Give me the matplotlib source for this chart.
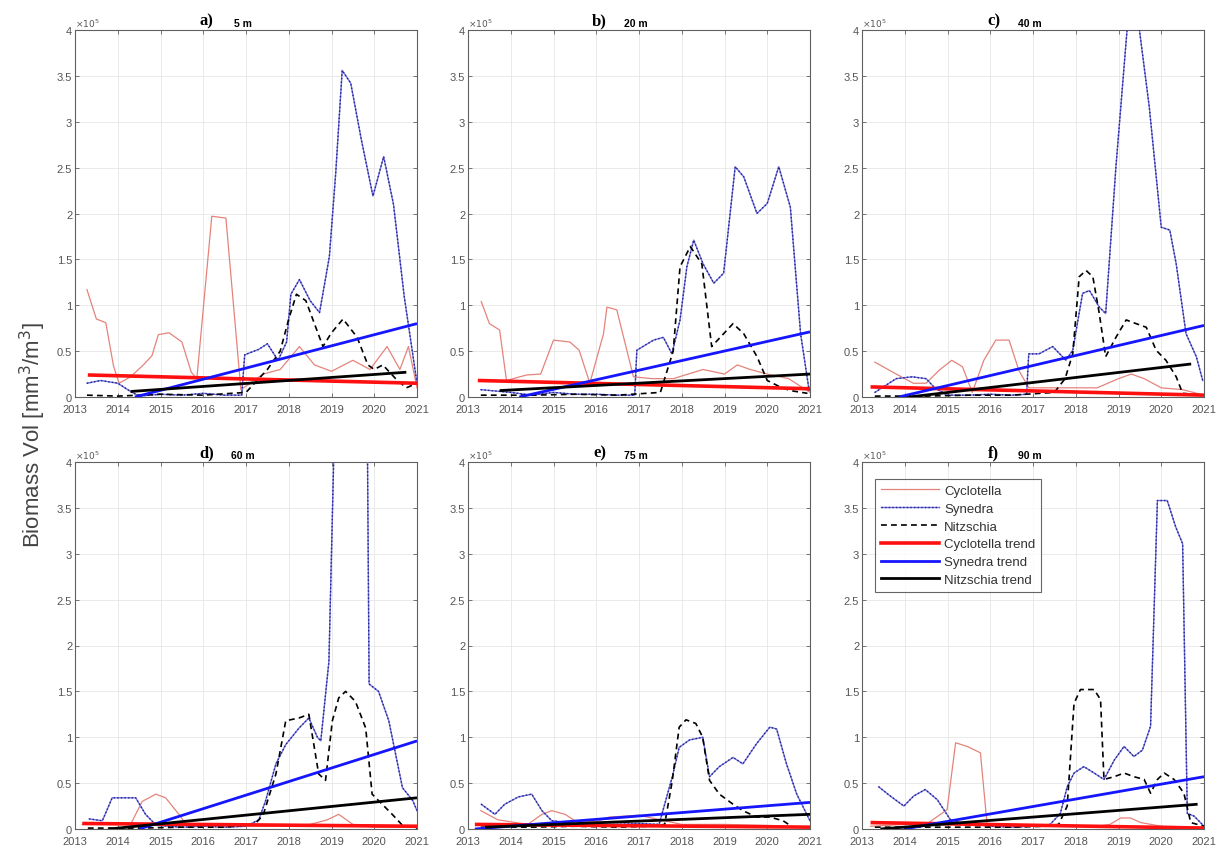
import matplotlib
matplotlib.use("Agg")
import matplotlib.pyplot as plt
from matplotlib.lines import Line2D

# ---------------- data (values in units of 10^5 mm^3/m^3) ----------------
panel_letters = ['a)', 'b)', 'c)', 'd)', 'e)', 'f)']
panel_depths = ['5 m', '20 m', '40 m', '60 m', '75 m', '90 m']
x_ticks = [2013, 2014, 2015, 2016, 2017, 2018, 2019, 2020, 2021]
y_ticks = [0, 0.5, 1, 1.5, 2, 2.5, 3, 3.5, 4]
y_ticklabels = ['0', '0.5', '1', '1.5', '2', '2.5', '3', '3.5', '4']
series_names = ['Cyclotella', 'Synedra', 'Nitzschia',
                'Cyclotella trend', 'Synedra trend', 'Nitzschia trend']

# panel a (5 m)
a_cyc_t = [2013.28, 2013.5, 2013.72, 2013.9, 2014.03, 2014.3, 2014.6, 2014.8, 2014.95, 2015.2, 2015.5, 2015.72, 2015.85, 2016.2, 2016.53, 2016.88, 2017.1, 2017.4, 2017.8, 2018.25, 2018.6, 2019.0, 2019.5, 2019.9, 2020.3, 2020.6, 2020.8, 2021.0]
a_cyc_v = [1.17, 0.85, 0.81, 0.34, 0.15, 0.22, 0.35, 0.45, 0.68, 0.70, 0.60, 0.27, 0.20, 1.97, 1.95, 0.08, 0.15, 0.25, 0.30, 0.55, 0.35, 0.28, 0.40, 0.30, 0.55, 0.30, 0.55, 0.10]
a_syn_t = [2013.28, 2013.6, 2014.0, 2014.3, 2014.5, 2015.0, 2015.5, 2016.0, 2016.5, 2016.9, 2016.97, 2017.3, 2017.5, 2017.75, 2017.95, 2018.05, 2018.25, 2018.5, 2018.72, 2018.95, 2019.1, 2019.25, 2019.45, 2019.7, 2019.97, 2020.22, 2020.45, 2020.7, 2021.0]
a_syn_v = [0.15, 0.18, 0.15, 0.06, 0.01, 0.03, 0.02, 0.04, 0.02, 0.02, 0.46, 0.52, 0.58, 0.40, 0.60, 1.12, 1.28, 1.05, 0.92, 1.53, 2.45, 3.56, 3.42, 2.80, 2.19, 2.62, 2.10, 1.10, 0.15]
a_nit_t = [2013.28, 2014.0, 2015.0, 2016.0, 2017.0, 2017.5, 2017.8, 2018.0, 2018.18, 2018.4, 2018.6, 2018.8, 2019.0, 2019.27, 2019.6, 2019.85, 2020.0, 2020.2, 2020.5, 2020.75, 2021.0]
a_nit_v = [0.02, 0.01, 0.03, 0.02, 0.05, 0.30, 0.50, 0.85, 1.12, 1.05, 0.80, 0.55, 0.70, 0.85, 0.65, 0.35, 0.30, 0.35, 0.20, 0.10, 0.15]
a_trend_cyc = ([2013.3, 2021.0], [0.24, 0.15])
a_trend_syn = ([2014.4, 2021.0], [0.00, 0.80])
a_trend_nit = ([2014.3, 2020.75], [0.06, 0.27])

# panel b (20 m)
b_cyc_t = [2013.31, 2013.5, 2013.74, 2013.9, 2014.37, 2014.7, 2015.0, 2015.38, 2015.6, 2015.85, 2016.17, 2016.25, 2016.48, 2016.87, 2017.3, 2017.8, 2018.5, 2019.0, 2019.3, 2019.6, 2020.0, 2020.5, 2021.0]
b_cyc_v = [1.04, 0.80, 0.73, 0.18, 0.24, 0.25, 0.62, 0.60, 0.51, 0.15, 0.69, 0.98, 0.95, 0.22, 0.20, 0.20, 0.30, 0.25, 0.35, 0.30, 0.25, 0.20, 0.05]
b_syn_t = [2013.3, 2014.0, 2014.5, 2015.0, 2015.5, 2016.0, 2016.5, 2016.9, 2016.95, 2017.34, 2017.57, 2017.77, 2017.96, 2018.12, 2018.28, 2018.5, 2018.75, 2018.98, 2019.25, 2019.45, 2019.76, 2020.0, 2020.27, 2020.54, 2020.78, 2020.98]
b_syn_v = [0.08, 0.05, 0.02, 0.05, 0.03, 0.03, 0.02, 0.02, 0.51, 0.62, 0.65, 0.47, 0.84, 1.42, 1.71, 1.45, 1.24, 1.35, 2.51, 2.40, 2.00, 2.11, 2.51, 2.07, 0.69, 0.07]
b_nit_t = [2013.3, 2014.5, 2015.5, 2016.5, 2017.5, 2017.8, 2017.96, 2018.2, 2018.47, 2018.7, 2018.9, 2019.2, 2019.45, 2019.76, 2020.0, 2020.3, 2020.54, 2020.94]
b_nit_v = [0.02, 0.02, 0.03, 0.02, 0.05, 0.50, 1.42, 1.64, 1.45, 0.55, 0.65, 0.80, 0.69, 0.44, 0.18, 0.11, 0.07, 0.04]
b_trend_cyc = ([2013.23, 2021.0], [0.18, 0.09])
b_trend_syn = ([2014.2, 2021.0], [0.00, 0.71])
b_trend_nit = ([2013.74, 2021.0], [0.07, 0.25])

# panel c (40 m)
c_cyc_t = [2013.3, 2013.8, 2014.2, 2014.5, 2014.8, 2015.1, 2015.35, 2015.58, 2015.85, 2016.13, 2016.44, 2016.67, 2016.9, 2017.5, 2018.5, 2019.0, 2019.3, 2019.6, 2020.0, 2020.5, 2021.0]
c_cyc_v = [0.38, 0.25, 0.15, 0.15, 0.29, 0.40, 0.33, 0.05, 0.40, 0.62, 0.62, 0.29, 0.10, 0.10, 0.10, 0.20, 0.25, 0.20, 0.10, 0.08, 0.02]
c_syn_t = [2013.3, 2013.8, 2014.17, 2014.5, 2014.7, 2015.0, 2015.5, 2016.0, 2016.5, 2016.85, 2016.9, 2017.14, 2017.46, 2017.77, 2017.93, 2018.16, 2018.32, 2018.55, 2018.7, 2018.94, 2019.2, 2019.3, 2019.49, 2019.72, 2020.0, 2020.2, 2020.35, 2020.58, 2020.82, 2020.97]
c_syn_v = [0.05, 0.20, 0.22, 0.20, 0.10, 0.02, 0.02, 0.03, 0.02, 0.03, 0.47, 0.47, 0.55, 0.40, 0.51, 1.13, 1.16, 0.98, 0.91, 2.51, 4.00, 4.30, 4.00, 3.16, 1.85, 1.82, 1.45, 0.69, 0.44, 0.18]
c_nit_t = [2013.3, 2014.5, 2015.5, 2016.5, 2017.5, 2017.75, 2017.93, 2018.08, 2018.24, 2018.4, 2018.55, 2018.7, 2018.94, 2019.18, 2019.41, 2019.65, 2019.88, 2020.11, 2020.35, 2020.5, 2021.0]
c_nit_v = [0.01, 0.01, 0.02, 0.02, 0.05, 0.20, 0.47, 1.31, 1.38, 1.31, 0.91, 0.44, 0.65, 0.84, 0.80, 0.76, 0.51, 0.40, 0.22, 0.04, 0.02]
c_trend_cyc = ([2013.2, 2021.0], [0.11, 0.02])
c_trend_syn = ([2013.86, 2021.0], [0.00, 0.78])
c_trend_nit = ([2014.1, 2020.7], [0.00, 0.36])

# panel d (60 m)
d_cyc_t = [2013.17, 2014.3, 2014.57, 2014.89, 2015.12, 2015.43, 2015.6, 2016.5, 2017.5, 2018.5, 2018.9, 2019.17, 2019.5, 2020.0, 2021.0]
d_cyc_v = [0.05, 0.05, 0.30, 0.38, 0.34, 0.16, 0.05, 0.03, 0.03, 0.05, 0.10, 0.16, 0.05, 0.02, 0.02]
d_syn_t = [2013.33, 2013.64, 2013.87, 2014.1, 2014.42, 2014.65, 2014.9, 2015.5, 2016.0, 2016.5, 2017.0, 2017.3, 2017.46, 2017.7, 2017.93, 2018.24, 2018.47, 2018.67, 2018.75, 2018.94, 2019.06, 2019.3, 2019.6, 2019.84, 2019.88, 2020.1, 2020.34, 2020.66, 2020.9, 2021.0]
d_syn_v = [0.11, 0.09, 0.34, 0.34, 0.34, 0.16, 0.04, 0.02, 0.03, 0.02, 0.03, 0.10, 0.31, 0.71, 0.92, 1.10, 1.21, 1.00, 0.96, 1.83, 4.20, 5.50, 6.00, 4.20, 1.58, 1.50, 1.18, 0.45, 0.31, 0.20]
d_nit_t = [2013.3, 2014.5, 2015.5, 2016.5, 2017.2, 2017.4, 2017.7, 2017.93, 2018.24, 2018.47, 2018.7, 2018.86, 2019.02, 2019.17, 2019.33, 2019.56, 2019.8, 2019.95, 2020.1, 2020.42, 2020.66, 2021.0]
d_nit_v = [0.01, 0.01, 0.02, 0.02, 0.05, 0.15, 0.60, 1.18, 1.21, 1.25, 0.60, 0.53, 1.18, 1.43, 1.50, 1.39, 1.10, 0.38, 0.31, 0.16, 0.04, 0.01]
d_trend_cyc = ([2013.17, 2021.0], [0.06, 0.03])
d_trend_syn = ([2014.5, 2021.0], [0.00, 0.96])
d_trend_nit = ([2013.8, 2021.0], [0.00, 0.34])

# panel e (75 m)
e_cyc_t = [2013.3, 2013.7, 2014.4, 2014.73, 2014.96, 2015.27, 2015.5, 2016.0, 2016.3, 2017.0, 2017.5, 2018.0, 2019.0, 2020.0, 2021.0]
e_cyc_v = [0.20, 0.10, 0.05, 0.16, 0.20, 0.16, 0.09, 0.08, 0.13, 0.15, 0.10, 0.05, 0.05, 0.04, 0.02]
e_syn_t = [2013.31, 2013.63, 2013.86, 2014.18, 2014.49, 2014.73, 2014.96, 2015.5, 2016.0, 2016.5, 2017.0, 2017.47, 2017.78, 2017.94, 2018.18, 2018.49, 2018.65, 2018.88, 2019.2, 2019.43, 2019.75, 2020.06, 2020.22, 2020.45, 2020.69, 2021.0]
e_syn_v = [0.27, 0.16, 0.27, 0.35, 0.38, 0.20, 0.09, 0.06, 0.05, 0.05, 0.06, 0.05, 0.57, 0.89, 0.97, 1.00, 0.57, 0.68, 0.78, 0.71, 0.93, 1.11, 1.09, 0.71, 0.38, 0.09]
e_nit_t = [2013.3, 2014.5, 2015.5, 2016.5, 2017.3, 2017.6, 2017.78, 2017.94, 2018.1, 2018.33, 2018.49, 2018.65, 2018.88, 2019.2, 2019.43, 2019.75, 2020.06, 2020.37, 2020.6, 2021.0]
e_nit_v = [0.02, 0.02, 0.03, 0.02, 0.03, 0.05, 0.53, 1.11, 1.19, 1.15, 1.00, 0.53, 0.38, 0.27, 0.20, 0.13, 0.13, 0.09, 0.02, 0.02]
e_trend_cyc = ([2013.16, 2021.0], [0.05, 0.02])
e_trend_syn = ([2013.16, 2021.0], [0.00, 0.29])
e_trend_nit = ([2013.4, 2021.0], [0.02, 0.16])

# panel f (90 m)
f_cyc_t = [2013.2, 2014.0, 2014.5, 2014.99, 2015.19, 2015.46, 2015.77, 2015.93, 2016.5, 2017.5, 2018.5, 2018.8, 2019.05, 2019.28, 2019.52, 2020.0, 2021.0]
f_cyc_v = [0.03, 0.05, 0.05, 0.21, 0.94, 0.90, 0.83, 0.03, 0.03, 0.03, 0.03, 0.05, 0.12, 0.12, 0.07, 0.03, 0.02]
f_syn_t = [2013.39, 2013.66, 2013.98, 2014.21, 2014.48, 2014.76, 2015.07, 2015.3, 2016.0, 2016.5, 2017.0, 2017.4, 2017.64, 2017.8, 2017.96, 2018.19, 2018.43, 2018.66, 2018.9, 2019.13, 2019.36, 2019.56, 2019.75, 2019.91, 2020.14, 2020.34, 2020.5, 2020.61, 2020.77, 2021.0]
f_syn_v = [0.46, 0.36, 0.25, 0.36, 0.43, 0.32, 0.10, 0.07, 0.03, 0.02, 0.03, 0.05, 0.17, 0.46, 0.61, 0.68, 0.61, 0.54, 0.75, 0.90, 0.79, 0.86, 1.12, 3.58, 3.58, 3.29, 3.11, 0.17, 0.14, 0.03]
f_nit_t = [2013.3, 2014.5, 2015.5, 2016.5, 2017.3, 2017.6, 2017.8, 2017.96, 2018.11, 2018.43, 2018.58, 2018.66, 2018.9, 2019.13, 2019.36, 2019.6, 2019.75, 2019.91, 2020.07, 2020.3, 2020.53, 2020.69, 2021.0]
f_nit_v = [0.02, 0.02, 0.02, 0.02, 0.03, 0.05, 0.25, 1.37, 1.52, 1.52, 1.41, 0.54, 0.57, 0.61, 0.57, 0.54, 0.39, 0.54, 0.61, 0.54, 0.39, 0.07, 0.03]
f_trend_cyc = ([2013.2, 2021.0], [0.07, 0.01])
f_trend_syn = ([2013.98, 2021.0], [0.00, 0.57])
f_trend_nit = ([2013.43, 2020.85], [0.00, 0.27])

panels = [
    (a_cyc_t, a_cyc_v, a_syn_t, a_syn_v, a_nit_t, a_nit_v, a_trend_cyc, a_trend_syn, a_trend_nit),
    (b_cyc_t, b_cyc_v, b_syn_t, b_syn_v, b_nit_t, b_nit_v, b_trend_cyc, b_trend_syn, b_trend_nit),
    (c_cyc_t, c_cyc_v, c_syn_t, c_syn_v, c_nit_t, c_nit_v, c_trend_cyc, c_trend_syn, c_trend_nit),
    (d_cyc_t, d_cyc_v, d_syn_t, d_syn_v, d_nit_t, d_nit_v, d_trend_cyc, d_trend_syn, d_trend_nit),
    (e_cyc_t, e_cyc_v, e_syn_t, e_syn_v, e_nit_t, e_nit_v, e_trend_cyc, e_trend_syn, e_trend_nit),
    (f_cyc_t, f_cyc_v, f_syn_t, f_syn_v, f_nit_t, f_nit_v, f_trend_cyc, f_trend_syn, f_trend_nit),
]

# ---------------- styling ----------------
plt.rcParams['font.family'] = ['Liberation Sans', 'DejaVu Sans']
W, H = 1224, 854
fig = plt.figure(figsize=(W / 100, H / 100), dpi=100)

lefts_px = [75, 468, 862]
tops_px = [31, 463]
aw_px, ah_px = 342, 367

cyc_color = '#e5837b'
syn_base = '#7070e8'
syn_dots = '#23237a'
nit_style = (0, (3.5, 2.5))
axis_color = '#606060'

for i, data in enumerate(panels):
    ct, cv, st, sv, nt, nv, tc, ts, tn = data
    row, col = divmod(i, 3)
    l = lefts_px[col] / W
    b = 1 - (tops_px[row] + ah_px) / H
    ax = fig.add_axes([l, b, aw_px / W, ah_px / H])

    ax.plot(ct, cv, color=cyc_color, lw=0.9, zorder=3)
    ax.plot(st, sv, color=syn_base, lw=1.0, zorder=4)
    ax.plot(st, sv, color=syn_dots, lw=1.0, ls=(0, (1, 1.6)), zorder=4)
    ax.plot(nt, nv, color='black', lw=1.2, ls=nit_style, zorder=4)
    ax.plot(tc[0], tc[1], color='#ff1010', lw=2.6, zorder=5, solid_capstyle='butt')
    ax.plot(ts[0], ts[1], color='#1515ff', lw=2.0, zorder=5, solid_capstyle='butt')
    ax.plot(tn[0], tn[1], color='black', lw=2.0, zorder=5, solid_capstyle='butt')

    ax.set_xlim(2013, 2021)
    ax.set_ylim(0, 4)
    ax.set_xticks(x_ticks)
    ax.set_xticklabels([str(v) for v in x_ticks])
    ax.set_yticks(y_ticks)
    ax.set_yticklabels(y_ticklabels)
    ax.tick_params(direction='in', length=3, width=0.6, colors=axis_color,
                   labelsize=8, top=True, right=True, pad=2)
    ax.tick_params(axis='x', pad=5)
    for lab in ax.get_xticklabels() + ax.get_yticklabels():
        lab.set_color('#555555')
    for sp in ax.spines.values():
        sp.set_color(axis_color)
        sp.set_linewidth(0.8)
    ax.grid(True, color='#e6e6e6', lw=0.6)
    ax.set_axisbelow(True)

    ax.text(0.0, 1.003, r'$\times10^5$', transform=ax.transAxes, fontsize=6.5,
            color='#555555', ha='left', va='bottom')
    ax.text(0.385, 1.005, panel_letters[i], transform=ax.transAxes,
            fontsize=12, fontweight='bold', family=['Liberation Serif', 'DejaVu Serif'],
            ha='center', va='bottom')
    ax.text(0.49, 1.005, panel_depths[i], transform=ax.transAxes,
            fontsize=7.5, fontweight='bold', ha='center', va='bottom')

    if i == 5:
        handles = [
            Line2D([], [], color=cyc_color, lw=0.9),
            (Line2D([], [], color=syn_base, lw=1.0),
             Line2D([], [], color=syn_dots, lw=1.0, ls=(0, (1, 1.6)))),
            Line2D([], [], color='black', lw=1.2, ls=nit_style),
            Line2D([], [], color='#ff1010', lw=2.6),
            Line2D([], [], color='#1515ff', lw=2.0),
            Line2D([], [], color='black', lw=2.0),
        ]
        leg = ax.legend(handles, series_names, loc='upper left',
                        bbox_to_anchor=(0.038, 0.954), fontsize=9.5, frameon=True,
                        fancybox=False, edgecolor='#404040', handlelength=4.4,
                        handletextpad=0.4, borderpad=0.45, labelspacing=0.42,
                        borderaxespad=0)
        leg.get_frame().set_linewidth(0.8)
        for t in leg.get_texts():
            t.set_color('#333333')

fig.text(33 / W, 1 - 435 / H, r'Biomass Vol [mm$^3$/m$^3$]', rotation=90,
         fontsize=16, color='#444444', ha='center', va='center')

fig.savefig('out.png', dpi=100)
